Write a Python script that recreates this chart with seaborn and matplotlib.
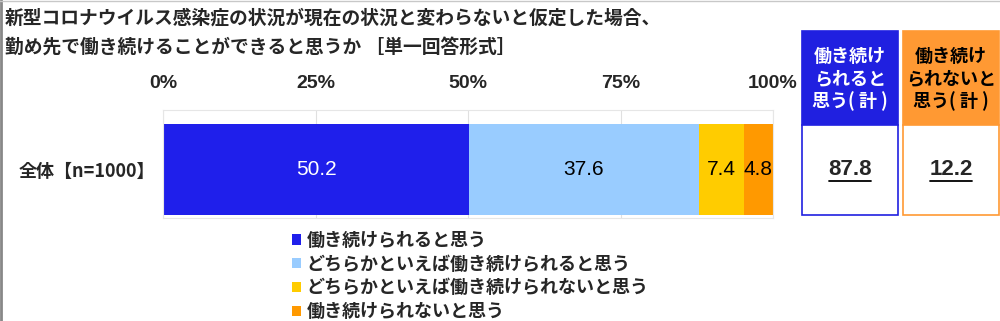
import matplotlib
matplotlib.use("Agg")
import matplotlib.pyplot as plt
import seaborn as sns
import pandas as pd
import numpy as np
from matplotlib.patches import Rectangle, Patch
from matplotlib.lines import Line2D

# ---- data ----
category = ["全体【n=1000】"]
series_names = ["働き続けられると思う",
                "どちらかといえば働き続けられると思う",
                "どちらかといえば働き続けられないと思う",
                "働き続けられないと思う"]
values = [50.2, 37.6, 7.4, 4.8]
colors = ["#1F1FEB", "#99CCFF", "#FFCC00", "#FF9900"]
label_colors = ["white", "black", "black", "black"]
tick_vals = [0, 25, 50, 75, 100]
tick_labels = ["0%", "25%", "50%", "75%", "100%"]
summary_titles = ["働き続け\nられると\n思う( 計 )", "働き続け\nられないと\n思う( 計 )"]
summary_values = ["87.8", "12.2"]
summary_colors = ["#2020E0", "#FF9933"]
summary_text_colors = ["white", "black"]

sns.set_style("white")
plt.rcParams['font.family'] = ['Noto Sans CJK JP', 'DejaVu Sans']
NUM_FONT = ['Liberation Sans', 'DejaVu Sans']

W, H = 1000, 321
fig = plt.figure(figsize=(10, 3.21), dpi=100)

def fx(px):
    return px / W

def fy(py):
    return 1 - py / H

ax = fig.add_axes([fx(163), fy(218), fx(773) - fx(163), fy(110) - fy(218)])

cum = np.cumsum(values)
for i in range(len(values) - 1, -1, -1):
    df = pd.DataFrame({"cat": category, "v": [cum[i]]})
    sns.barplot(data=df, x="v", y="cat", orient="h", color=colors[i],
                width=0.8, saturation=1, ax=ax, edgecolor="none", linewidth=0)

starts = cum - np.array(values)
for i, v in enumerate(values):
    ax.text(starts[i] + v / 2, 0, f"{v:.1f}", ha="center", va="center",
            color=label_colors[i], fontsize=15, family=NUM_FONT)

ax.set_xlim(0, 100)
ax.set_ylim(0.426, -0.523)
ax.xaxis.tick_top()
ax.set_xticks(tick_vals)
ax.set_xticklabels(tick_labels, fontsize=14, fontweight="bold", family=NUM_FONT)
ax.tick_params(axis="x", length=0, pad=13)
ax.tick_params(axis="y", length=0, pad=6)
ax.set_yticks([0])
ax.set_yticklabels(category, fontsize=13, fontweight="bold")
ax.set_xlabel("")
ax.set_ylabel("")
ax.grid(axis="x", color="#E0E0E0", linewidth=0.8)
ax.set_axisbelow(True)
for s in ax.spines.values():
    s.set_color("#E6E6E6")
    s.set_linewidth(0.8)

# title
fig.text(fx(5), fy(18), "新型コロナウイルス感染症の状況が現在の状況と変わらないと仮定した場合、",
         fontsize=13.5, fontweight="bold", va="center", ha="left")
fig.text(fx(5), fy(47), "勤め先で働き続けることができると思うか ［単一回答形式］",
         fontsize=13.5, fontweight="bold", va="center", ha="left")

# summary boxes
box_x = [802, 903]
box_w = 96
top, mid, bot = 31, 125, 215
for i in range(2):
    x0 = box_x[i]
    fig.patches.append(Rectangle((fx(x0), fy(mid)), fx(box_w), fy(top) - fy(mid),
                                 transform=fig.transFigure, facecolor=summary_colors[i],
                                 edgecolor=summary_colors[i], linewidth=1.2))
    fig.patches.append(Rectangle((fx(x0), fy(bot)), fx(box_w), fy(mid) - fy(bot),
                                 transform=fig.transFigure, facecolor="white",
                                 edgecolor=summary_colors[i], linewidth=1.2))
    fig.text(fx(x0 + box_w / 2), fy((top + mid) / 2 + 1), summary_titles[i],
             ha="center", va="center", fontsize=13, fontweight="bold",
             color=summary_text_colors[i], linespacing=1.2)
    fig.text(fx(x0 + box_w / 2), fy(170), summary_values[i], ha="center", va="center",
             fontsize=16, fontweight="bold", family=NUM_FONT)
    fig.add_artist(Line2D([fx(x0 + 27), fx(x0 + 69)], [fy(181), fy(181)],
                          transform=fig.transFigure, color="black", linewidth=1.3))

# legend
handles = [Patch(facecolor=c, edgecolor="none") for c in colors]
fig.legend(handles, series_names, loc="upper left",
           bbox_to_anchor=(fx(292), fy(231)), frameon=False,
           prop={"size": 13, "weight": "bold", "family": ['Noto Sans CJK JP', 'DejaVu Sans']},
           handlelength=0.5, handleheight=0.5, handletextpad=0.3,
           labelspacing=0.26, borderpad=0, borderaxespad=0)

# border lines
fig.add_artist(Line2D([0.001, 0.001], [0, 1], transform=fig.transFigure,
                      color="#888888", linewidth=2))
fig.add_artist(Line2D([0, 1], [0.998, 0.998], transform=fig.transFigure,
                      color="#C8C8C8", linewidth=1))

fig.savefig("out.png", dpi=100)
